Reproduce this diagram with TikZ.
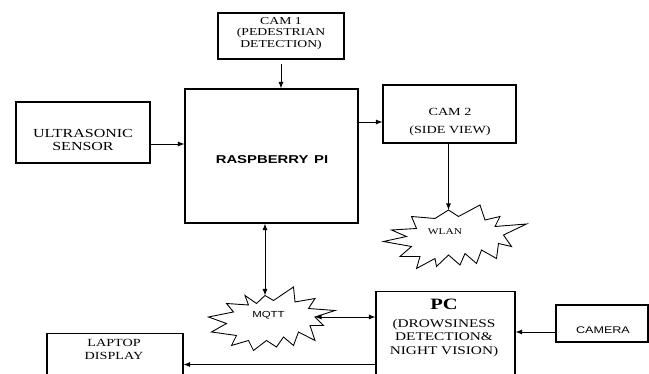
\documentclass[tikz,border=0pt]{standalone}
\usepackage{fontspec}
\setmainfont[FakeStretch=1.3]{Liberation Serif}
\setsansfont[FakeStretch=1.3]{Liberation Sans}
\usetikzlibrary{arrows.meta}

\tikzset{
  block/.style={draw, line width=0.6pt, inner sep=0pt},
  txt/.style={align=center, inner sep=0pt},
  link/.style={-{Latex[length=1.3mm,width=1mm]}, line width=0.5pt},
  twolink/.style={{Latex[length=1.3mm,width=1mm]}-{Latex[length=1.3mm,width=1mm]}, line width=0.5pt},
  burst/.style={draw, line width=0.5pt, line join=miter}
}

\begin{document}
\begin{tikzpicture}
    \useasboundingbox (0,0) rectangle (12.98,7.48);
    \clip (0,0) rectangle (12.98,7.48);
    % boxes
    \node [block, minimum width=2.52cm, minimum height=0.92cm] (cam1) at (5.62,6.76) {};
    \node [block, minimum width=3.46cm, minimum height=2.68cm] (rpi) at (5.43,4.36) {};
    \node [block, minimum width=2.68cm, minimum height=1.22cm] (ultra) at (1.66,4.83) {};
    \node [block, minimum width=2.66cm, minimum height=1.16cm] (cam2) at (8.99,5.20) {};
    \node [block, minimum width=2.78cm, minimum height=2.4cm, anchor=north] (pc) at (8.91,1.66) {};
    \node [block, minimum width=1.84cm, minimum height=0.74cm] (camera) at (12.04,1.01) {};
    \node [block, minimum width=2.72cm, minimum height=1.5cm, anchor=north] (laptop) at (2.30,0.82) {};
    % texts
    \node [txt, font=\fontsize{6}{6.6}\selectfont] (cam1 text) at (5.62,6.81) {CAM 1\\(PEDESTRIAN\\DETECTION)};
    \node [txt, font=\fontsize{7}{7.6}\selectfont] (ultra text) at (1.66,4.68) {ULTRASONIC\\SENSOR};
    \node [txt, font=\sffamily\bfseries\fontsize{6.5}{7}\selectfont] (rpi text) at (5.44,4.28) {RASPBERRY\hspace{0.5em}PI};
    \node [txt, font=\fontsize{6.2}{10.2}\selectfont] (cam2 text) at (9.00,5.04) {CAM 2\\(SIDE VIEW)};
    \node [txt, font=\bfseries\fontsize{9}{9}\selectfont] (pc title) at (8.88,1.40) {PC};
    \node [txt, font=\fontsize{6.7}{7.6}\selectfont] (pc text) at (8.88,0.72) {(DROWSINESS\\DETECTION\&\\NIGHT VISION)};
    \node [txt, font=\sffamily\fontsize{5.5}{6}\selectfont] (camera text) at (12.06,0.88) {CAMERA};
    \node [txt, font=\fontsize{6.2}{7.4}\selectfont] (laptop text) at (2.28,0.49) {LAPTOP\\DISPLAY};
    % clouds
    \draw [burst] (8.97,3.28) -- (9.17,3.15) -- (9.60,3.38) -- (9.70,3.08) -- (10.00,3.15)
      -- (9.90,2.95) -- (10.53,3.00) -- (10.07,2.78) -- (10.23,2.55) -- (9.97,2.61)
      -- (9.93,2.31) -- (9.63,2.48) -- (9.53,2.21) -- (9.30,2.41) -- (9.20,2.18)
      -- (8.97,2.38) -- (8.73,2.15) -- (8.70,2.31) -- (8.33,2.11) -- (8.40,2.35)
      -- (8.00,2.35) -- (8.23,2.55) -- (7.67,2.65) -- (8.13,2.75) -- (7.83,2.88)
      -- (8.33,2.91) -- (8.23,3.15) -- (8.70,3.11) -- cycle;
    \coordinate (wlan) at (8.97,3.28);
    \node [txt, font=\fontsize{5}{5}\selectfont] (wlan text) at (8.90,2.85) {WLAN};
    \draw [burst] (5.30,1.57) -- (5.47,1.47) -- (5.87,1.74) -- (5.90,1.44) -- (6.30,1.51)
      -- (6.17,1.31) -- (6.70,1.27) -- (6.30,1.14) -- (6.47,0.97) -- (6.20,0.97)
      -- (6.30,0.67) -- (5.97,0.84) -- (5.87,0.57) -- (5.67,0.74) -- (5.53,0.54)
      -- (5.33,0.67) -- (5.07,0.47) -- (4.97,0.67) -- (4.63,0.57) -- (4.73,0.77)
      -- (4.23,0.84) -- (4.53,1.01) -- (4.17,1.14) -- (4.67,1.24) -- (4.53,1.41)
      -- (4.97,1.38) -- (4.90,1.57) -- (5.13,1.41) -- cycle;
    \coordinate (mqtt top) at (5.30,1.57);
    \coordinate (mqtt right) at (6.30,1.14);
    \node [txt, font=\sffamily\fontsize{5}{5}\selectfont] (mqtt text) at (5.37,1.17) {MQTT};
    % links
    \draw [link] ([yshift=-0.08cm]cam1.south) -- (cam1.south |- rpi.north);
    \coordinate (us) at ([yshift=-0.23cm]ultra.east);
    \draw [link] (us) -- (us -| rpi.west);
    \coordinate (c2) at ([yshift=-0.16cm]cam2.west);
    \draw [link] (c2 -| rpi.east) -- (c2);
    \draw [link] (wlan |- cam2.south) -- (wlan);
    \draw [twolink] (mqtt top |- rpi.south) -- (mqtt top);
    \draw [twolink] (mqtt right) -- (mqtt right -| pc.west);
    \coordinate (cm) at ([yshift=-0.17cm]camera.west);
    \draw [link] (cm) -- (cm -| pc.east);
    \coordinate (pl) at ([yshift=-0.26cm]pc.west);
    \draw [link] (pl) -- (pl -| laptop.east);
\end{tikzpicture}
\end{document}
